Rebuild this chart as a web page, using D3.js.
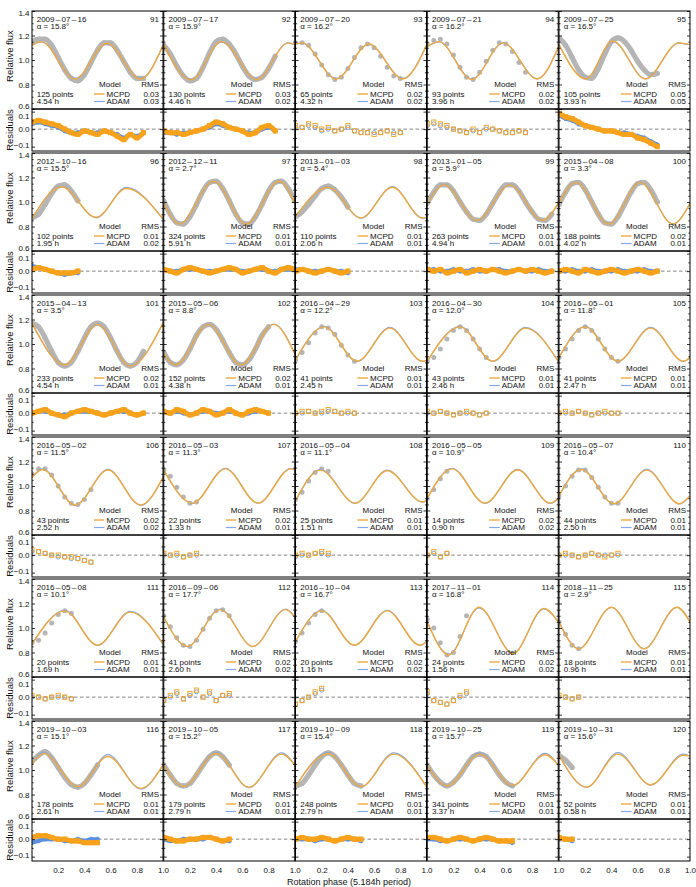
<!DOCTYPE html>
<html><head><meta charset="utf-8">
<script src="https://cdn.jsdelivr.net/npm/d3@7"></script>
<style>body{margin:0;background:#fff}svg{display:block}</style>
</head><body><svg id="c" width="696" height="887"></svg>
<script>
const panelIds = [91,92,93,94,95,96,97,98,99,100,101,102,103,104,105,106,107,108,109,110,111,112,113,114,115,116,117,118,119,120];
const dates = ["2009–07–16","2009–07–17","2009–07–20","2009–07–21","2009–07–25","2012–10–16","2012–12–11","2013–01–03","2013–01–05","2015–04–08","2015–04–13","2015–05–06","2016–04–29","2016–04–30","2016–05–01","2016–05–02","2016–05–03","2016–05–04","2016–05–05","2016–05–07","2016–05–08","2016–09–06","2016–10–04","2017–11–01","2018–11–25","2019–10–03","2019–10–05","2019–10–09","2019–10–25","2019–10–31"];
const alphas = [15.8,15.9,16.2,16.2,16.5,15.5,2.7,5.4,5.9,3.3,3.5,8.8,12.2,12.0,11.8,11.5,11.3,11.1,10.9,10.4,10.1,17.7,16.7,16.8,2.9,15.1,15.2,15.4,15.7,15.6];
const nPoints = [125,130,65,93,105,102,324,110,263,188,233,152,41,43,41,43,22,25,14,44,20,41,20,24,18,178,179,248,341,52];
const hours = [4.54,4.46,4.32,3.96,3.93,1.95,5.91,2.06,4.94,4.02,4.54,4.38,2.45,2.46,2.47,2.52,1.33,1.51,0.90,2.50,1.69,2.60,1.16,1.56,0.96,2.61,2.79,2.79,3.37,0.58];
const rmsMCPD = [0.03,0.03,0.02,0.02,0.05,0.01,0.01,0.01,0.01,0.02,0.02,0.02,0.01,0.01,0.01,0.02,0.02,0.01,0.02,0.01,0.01,0.02,0.02,0.02,0.01,0.01,0.01,0.01,0.01,0.01];
const rmsADAM = [0.03,0.02,0.02,0.02,0.05,0.02,0.01,0.01,0.01,0.01,0.01,0.01,0.01,0.01,0.01,0.02,0.01,0.01,0.02,0.01,0.01,0.02,0.02,0.02,0.01,0.01,0.01,0.01,0.01,0.01];

// model curves: [phase, relative flux] at read-off extrema
const mcpdKeys = [
 [[0,1.12],[0.07,1.15],[0.33,0.845],[0.57,1.135],[0.83,0.845],[1,1.12]],
 [[0,1.125],[0.21,0.838],[0.44,1.15],[0.71,0.84],[0.95,1.14],[1,1.125]],
 [[0,1.13],[0.05,1.14],[0.31,0.845],[0.56,1.13],[0.82,0.845],[1,1.12]],
 [[0,1.11],[0.09,1.15],[0.34,0.84],[0.58,1.14],[0.84,0.845],[1,1.1]],
 [[0,1.125],[0.205,0.845],[0.41,1.155],[0.66,0.845],[0.915,1.14],[1,1.125]],
 [[0,0.865],[0.225,1.125],[0.49,0.875],[0.72,1.11],[1,0.862]],
 [[0,0.995],[0.12,0.82],[0.38,1.17],[0.63,0.82],[0.88,1.17],[1,0.995]],
 [[0,0.88],[0.25,1.12],[0.5,0.87],[0.74,1.12],[0.97,0.87],[1,0.875]],
 [[0,0.99],[0.13,1.14],[0.38,0.85],[0.63,1.14],[0.88,0.85],[1,0.99]],
 [[0,0.99],[0.13,1.16],[0.38,0.82],[0.62,1.16],[0.87,0.82],[1,0.99]],
 [[0,1.17],[0.25,0.83],[0.5,1.16],[0.75,0.82],[1,1.17]],
 [[0,0.92],[0.09,0.83],[0.34,1.16],[0.59,0.83],[0.84,1.16],[1,0.92]],
 [[0,0.87],[0.22,1.14],[0.47,0.86],[0.72,1.13],[0.97,0.86],[1,0.865]],
 [[0,0.86],[0.25,1.14],[0.5,0.86],[0.75,1.13],[1,0.86]],
 [[0,0.89],[0.2,1.14],[0.45,0.86],[0.7,1.13],[0.95,0.86],[1,0.89]],
 [[0,1.07],[0.08,1.135],[0.33,0.845],[0.58,1.13],[0.83,0.845],[1,1.07]],
 [[0,1.13],[0.22,0.86],[0.47,1.14],[0.72,0.86],[0.97,1.14],[1,1.13]],
 [[0,0.88],[0.19,1.13],[0.456,0.86],[0.7,1.125],[0.97,0.87],[1,0.88]],
 [[0,0.9],[0.19,1.14],[0.44,0.86],[0.69,1.13],[0.94,0.86],[1,0.9]],
 [[0,0.92],[0.17,1.135],[0.42,0.855],[0.67,1.13],[0.92,0.855],[1,0.92]],
 [[0,0.87],[0.25,1.14],[0.5,0.86],[0.75,1.13],[1,0.87]],
 [[0,1.09],[0.18,0.85],[0.43,1.15],[0.68,0.85],[0.93,1.15],[1,1.09]],
 [[0,0.89],[0.2,1.14],[0.45,0.86],[0.7,1.14],[0.95,0.86],[1,0.89]],
 [[0,1.05],[0.165,0.78],[0.395,1.17],[0.655,0.79],[0.89,1.16],[1,1.05]],
 [[0,1.05],[0.15,0.83],[0.4,1.17],[0.65,0.83],[0.9,1.17],[1,1.05]],
 [[0,1.05],[0.09,1.136],[0.35,0.864],[0.58,1.11],[0.83,0.85],[1,1.04]],
 [[0,1.04],[0.15,0.865],[0.4,1.135],[0.65,0.86],[0.9,1.13],[1,1.04]],
 [[0,0.865],[0.25,1.135],[0.5,0.865],[0.75,1.13],[1,0.865]],
 [[0,1.04],[0.15,0.87],[0.4,1.13],[0.65,0.875],[0.9,1.125],[1,1.04]],
 [[0,1.12],[0.21,0.86],[0.45,1.13],[0.7,0.88],[0.95,1.12],[1,1.115]]
];
const adamKeys = [
 [[0,1.12],[0.07,1.148],[0.33,0.85],[0.57,1.13],[0.83,0.85],[1,1.12]],
 [[0,1.125],[0.21,0.842],[0.44,1.145],[0.71,0.843],[0.95,1.14],[1,1.125]],
 [[0,1.13],[0.05,1.138],[0.31,0.85],[0.56,1.128],[0.82,0.85],[1,1.12]],
 [[0,1.11],[0.09,1.148],[0.34,0.845],[0.58,1.138],[0.84,0.848],[1,1.1]],
 [[0,1.125],[0.205,0.848],[0.41,1.15],[0.66,0.848],[0.915,1.138],[1,1.125]],
 [[0,0.86],[0.225,1.13],[0.49,0.87],[0.72,1.12],[1,0.858]],
 [[0,0.995],[0.12,0.823],[0.38,1.168],[0.63,0.823],[0.88,1.168],[1,0.995]],
 [[0,0.878],[0.25,1.125],[0.5,0.868],[0.74,1.125],[0.97,0.868],[1,0.873]],
 [[0,0.99],[0.13,1.145],[0.38,0.848],[0.63,1.145],[0.88,0.848],[1,0.99]],
 [[0,0.99],[0.13,1.162],[0.38,0.822],[0.62,1.162],[0.87,0.822],[1,0.99]],
 [[0,1.172],[0.25,0.832],[0.5,1.162],[0.75,0.822],[1,1.172]],
 [[0,0.92],[0.09,0.832],[0.34,1.162],[0.59,0.832],[0.84,1.162],[1,0.92]],
 [[0,0.868],[0.22,1.145],[0.47,0.858],[0.72,1.135],[0.97,0.858],[1,0.863]],
 [[0,0.858],[0.25,1.145],[0.5,0.858],[0.75,1.135],[1,0.858]],
 [[0,0.888],[0.2,1.145],[0.45,0.858],[0.7,1.135],[0.95,0.858],[1,0.888]],
 [[0,1.07],[0.08,1.14],[0.33,0.842],[0.58,1.135],[0.83,0.842],[1,1.07]],
 [[0,1.13],[0.22,0.858],[0.47,1.145],[0.72,0.858],[0.97,1.145],[1,1.13]],
 [[0,0.878],[0.19,1.135],[0.456,0.858],[0.7,1.13],[0.97,0.868],[1,0.878]],
 [[0,0.898],[0.19,1.145],[0.44,0.858],[0.69,1.135],[0.94,0.858],[1,0.898]],
 [[0,0.918],[0.17,1.14],[0.42,0.853],[0.67,1.135],[0.92,0.853],[1,0.918]],
 [[0,0.868],[0.25,1.145],[0.5,0.858],[0.75,1.135],[1,0.868]],
 [[0,1.09],[0.18,0.848],[0.43,1.155],[0.68,0.848],[0.93,1.155],[1,1.09]],
 [[0,0.888],[0.2,1.145],[0.45,0.858],[0.7,1.145],[0.95,0.858],[1,0.888]],
 [[0,1.05],[0.165,0.785],[0.395,1.165],[0.655,0.795],[0.89,1.155],[1,1.05]],
 [[0,1.05],[0.15,0.832],[0.4,1.168],[0.65,0.832],[0.9,1.168],[1,1.05]],
 [[0,1.05],[0.09,1.145],[0.35,0.86],[0.58,1.125],[0.83,0.845],[1,1.04]],
 [[0,1.04],[0.15,0.862],[0.4,1.145],[0.65,0.856],[0.9,1.14],[1,1.04]],
 [[0,0.862],[0.25,1.145],[0.5,0.862],[0.75,1.14],[1,0.862]],
 [[0,1.04],[0.15,0.866],[0.4,1.14],[0.65,0.87],[0.9,1.135],[1,1.04]],
 [[0,1.12],[0.21,0.858],[0.45,1.142],[0.7,0.876],[0.95,1.13],[1,1.115]]
];

// observed relative flux, read at phase steps of 0.05 from phase 0
const obsStep = 0.05;
const obsFlux = [
 [1.15,1.17,1.17,1.12,1.02,0.92,0.85,0.83,0.88,0.98,1.08,1.14,1.14,1.08,0.99,0.90,0.85,0.85],
 [1.12,1.05,0.95,0.87,0.83,0.85,0.94,1.06,1.15,1.17,1.13,1.05,0.95,0.87,0.84,0.86,0.93,1.03],
 [1.14,1.14,1.12,1.05,0.96,0.88,0.84,0.86,0.93,1.02,1.10,1.13,1.10,1.03,0.94,0.87,0.85],
 [1.13,1.16,1.17,1.13,1.04,0.94,0.86,0.84,0.90,0.99,1.08,1.14,1.13,1.07,0.98,0.90],
 [1.18,1.12,1.02,0.92,0.86,0.85,0.93,1.05,1.15,1.18,1.15,1.08,0.99,0.92,0.88,0.89],
 [0.87,0.90,0.98,1.07,1.13,1.14,1.09,1.01],
 [1.01,0.90,0.83,0.82,0.88,0.98,1.09,1.16,1.17,1.11,1.01,0.90,0.83,0.82,0.88,0.98,1.09,1.16,1.17,1.11,1.01],
 [0.88,0.92,0.98,1.05,1.11,1.13,1.10,1.04,0.96],
 [0.99,1.08,1.14,1.14,1.09,1.00,0.92,0.86,0.85,0.90,0.99,1.08,1.14,1.14,1.09,1.00,0.92,0.86,0.85,0.90],
 [0.98,1.08,1.15,1.16,1.10,1.00,0.90,0.83,0.82,0.88,0.98,1.08,1.15,1.16,1.10,1.00],
 [1.17,1.14,1.05,0.94,0.85,0.82,0.85,0.94,1.05,1.14,1.17,1.14,1.05,0.94,0.85,0.82,0.85,0.94],
 [0.93,0.85,0.83,0.87,0.96,1.07,1.14,1.16,1.12,1.03,0.93,0.85,0.83,0.87,0.96,1.07,1.14],
 [0.87,0.93,1.01,1.09,1.14,1.13,1.08,0.99,0.91,0.86],
 [0.86,0.89,0.96,1.04,1.11,1.14,1.11,1.04,0.96,0.89],
 [0.89,0.96,1.04,1.11,1.14,1.11,1.04,0.96,0.89,0.86],
 [1.10,1.14,1.14,1.09,1.00,0.91,0.86,0.85,0.89,0.97],
 [1.13,1.08,0.99,0.91,0.86,0.87],
 [0.89,0.95,1.04,1.11,1.14,1.12],
 [0.90,0.97,1.06,1.12],
 [0.92,1.00,1.08,1.13,1.13,1.07,0.99,0.91,0.86,0.86],
 [0.88,0.90,0.96,1.04,1.11,1.14,1.12],
 [1.10,1.01,0.92,0.86,0.85,0.90,0.99,1.08,1.14,1.15,1.10],
 [0.89,0.96,1.04,1.11,1.14],
 [1.07,1.00,0.88,0.78,0.80,0.93,1.10],
 [1.05,0.95,0.86,0.83],
 [1.07,1.12,1.15,1.10,1.02,0.94,0.88,0.86,0.89,0.96,1.04],
 [1.04,0.96,0.89,0.87,0.89,0.96,1.04,1.11,1.14,1.11,1.04],
 [0.87,0.89,0.96,1.04,1.11,1.14,1.11,1.04,0.96,0.89,0.87],
 [1.04,0.96,0.90,0.87,0.90,0.96,1.04,1.11,1.13,1.11,1.04,0.96,0.90,0.87],
 [1.12,1.08,1.02]
];
const resMCPD = [
 [0.04,0.05,0.04,0.03,0.02,0.00,-0.02,-0.03,-0.01,-0.02,-0.03,-0.01,-0.02,-0.04,-0.06,-0.03,-0.05,-0.02],
 [-0.01,-0.02,-0.02,-0.03,-0.02,-0.01,0.00,0.02,0.04,0.03,0.01,0.00,-0.01,-0.03,-0.02,0.01,0.02,-0.01],
 [0.02,0.01,0.03,0.02,0.00,0.01,-0.01,0.00,0.02,-0.01,-0.02,-0.02,-0.03,-0.02,-0.01,-0.03,-0.02],
 [0.03,0.04,0.03,0.02,0.00,-0.01,-0.02,0.00,-0.02,0.01,0.00,-0.01,-0.02,-0.02,-0.01,-0.02],
 [0.09,0.07,0.06,0.04,0.02,0.01,0.00,-0.01,-0.01,-0.02,-0.03,-0.03,-0.05,-0.06,-0.08,-0.10],
 [0.01,0.02,0.01,0.00,-0.01,-0.01,-0.01,0.00],
 [0.01,0.00,-0.01,0.01,0.02,0.01,0.00,-0.01,0.00,0.01,0.02,0.01,-0.01,0.00,0.01,0.02,0.00,-0.01,0.01,0.02,0.01],
 [0.00,0.01,0.00,-0.01,0.00,0.01,0.00,-0.01,0.00],
 [0.01,0.00,0.01,-0.01,0.00,0.01,-0.01,0.00,0.01,0.00,0.01,0.00,-0.01,0.00,0.01,0.00,0.01,0.00,-0.01,0.00],
 [0.00,0.01,0.00,-0.01,0.01,0.00,-0.01,0.00,0.01,0.00,-0.01,0.00,0.01,0.00,-0.01,0.00],
 [0.00,0.01,0.02,0.00,-0.01,-0.02,0.00,0.01,0.02,0.01,0.00,-0.01,0.00,0.01,0.02,0.00,-0.01,0.00],
 [0.01,0.00,0.02,0.01,-0.01,0.00,0.02,0.01,-0.01,0.00,0.02,0.00,-0.01,0.01,0.02,0.01,0.00],
 [0.00,0.01,0.01,0.00,0.01,0.02,0.01,0.00,0.01,0.00],
 [0.01,0.00,0.01,0.00,-0.01,0.00,0.01,0.00,-0.01,0.00],
 [0.00,0.01,0.00,0.01,0.00,-0.01,0.00,0.01,0.00,0.00],
 [0.03,0.02,0.01,0.00,0.00,-0.01,-0.01,-0.02,-0.03,-0.04],
 [0.01,0.00,0.01,-0.01,0.00,0.01],
 [0.00,0.01,0.00,0.01,0.02,0.01],
 [0.00,0.02,-0.01,0.01],
 [0.00,0.01,0.00,-0.01,0.00,0.01,0.00,-0.01,0.00,0.01],
 [0.01,0.00,-0.01,0.00,0.01,0.00,-0.01],
 [-0.02,0.01,0.03,-0.01,0.02,0.04,0.00,0.03,-0.02,0.01,0.02],
 [-0.04,-0.02,0.00,0.03,0.05],
 [0.03,-0.02,-0.03,-0.04,-0.02,0.01,0.03],
 [0.01,0.00,-0.01,0.00],
 [0.01,0.02,0.02,0.01,0.00,0.00,-0.01,-0.01,-0.02,-0.02,-0.02],
 [0.01,0.00,-0.01,-0.01,0.00,0.00,0.01,0.01,0.00,-0.01,0.00],
 [0.00,0.01,0.00,0.00,0.01,0.00,-0.01,0.00,0.01,0.00,0.00],
 [0.01,0.01,0.00,-0.01,0.00,0.01,0.00,-0.01,0.00,0.01,0.00,-0.01,-0.01,-0.01],
 [0.01,0.00,0.00]
];
const resADAM = [
 [0.03,0.04,0.03,0.02,0.01,-0.01,-0.02,-0.02,-0.01,-0.02,-0.02,-0.01,-0.02,-0.03,-0.05,-0.03,-0.04,-0.02],
 [-0.02,-0.02,-0.03,-0.02,-0.02,-0.01,0.00,0.01,0.03,0.02,0.01,0.00,-0.01,-0.02,-0.02,0.00,0.01,-0.01],
 [0.01,0.01,0.02,0.01,-0.01,0.00,-0.01,0.00,0.01,-0.01,-0.02,-0.02,-0.02,-0.02,-0.01,-0.02,-0.02],
 [0.02,0.03,0.02,0.01,0.00,-0.01,-0.02,-0.01,-0.02,0.00,0.00,-0.01,-0.02,-0.02,-0.01,-0.02],
 [0.08,0.06,0.05,0.03,0.02,0.01,0.00,-0.01,-0.01,-0.02,-0.02,-0.03,-0.04,-0.05,-0.07,-0.09],
 [0.03,0.02,0.01,0.00,-0.01,-0.02,-0.01,-0.01],
 [0.01,0.00,0.00,0.01,0.01,0.01,0.00,0.00,0.00,0.01,0.01,0.01,0.00,0.00,0.01,0.01,0.00,0.00,0.01,0.01,0.01],
 [0.01,0.01,0.00,0.00,0.00,0.01,0.00,0.00,-0.01],
 [0.01,0.01,0.00,0.00,0.01,0.00,0.00,0.01,0.00,0.00,0.01,0.01,0.00,0.00,0.01,0.00,0.00,0.01,0.00,0.00],
 [0.00,0.00,0.01,0.00,0.00,0.01,0.00,0.00,0.00,0.01,0.00,0.00,0.00,0.01,0.00,0.00],
 [0.00,0.01,0.01,0.00,-0.01,-0.01,0.00,0.01,0.01,0.01,0.00,-0.01,0.00,0.01,0.01,0.00,-0.01,0.00],
 [0.01,0.00,0.01,0.00,-0.01,0.00,0.01,0.01,0.00,0.00,0.01,0.00,-0.01,0.00,0.01,0.01,0.00],
 [0.00,0.00,0.01,0.00,0.00,0.01,0.01,0.00,0.00,0.00],
 [0.00,0.00,0.01,0.00,-0.01,0.00,0.00,0.00,-0.01,0.00],
 [0.00,0.00,0.00,0.01,0.00,-0.01,0.00,0.00,0.00,0.00],
 [0.02,0.02,0.01,0.00,-0.01,-0.01,-0.02,-0.02,-0.03,-0.04],
 [0.00,0.00,0.00,-0.01,0.00,0.00],
 [-0.01,0.00,0.00,0.01,0.01,0.00],
 [0.00,0.01,-0.01,0.01],
 [0.00,0.00,0.00,-0.01,0.00,0.01,0.00,0.00,0.00,0.00],
 [0.00,0.00,-0.01,0.00,0.00,0.00,-0.01],
 [-0.02,0.00,0.02,-0.01,0.01,0.03,0.00,0.02,-0.02,0.01,0.01],
 [-0.04,-0.02,0.00,0.02,0.04],
 [0.02,-0.02,-0.03,-0.04,-0.02,0.00,0.02],
 [0.00,0.00,-0.01,0.00],
 [-0.02,-0.01,0.00,0.00,0.00,-0.01,-0.01,0.00,-0.01,0.00,0.00],
 [0.00,-0.01,-0.01,0.00,0.00,0.00,0.00,0.01,0.00,-0.01,-0.01],
 [0.00,0.00,0.00,-0.01,0.00,0.00,-0.01,0.00,0.00,0.00,-0.01],
 [0.00,0.00,-0.01,-0.01,0.00,0.00,0.00,-0.01,0.00,0.00,0.00,-0.01,-0.01,-0.02],
 [0.00,0.00,-0.01]
];

const fluxTicks = [0.6,0.8,1.0,1.2,1.4];
const fluxMinorTicks = [0.65,0.7,0.75,0.85,0.9,0.95,1.05,1.1,1.15,1.25,1.3,1.35];
const resTicks = [-0.1,0.0,0.1];
const resMinorTicks = [-0.05,0.05];
const phaseTicks = [0.2,0.4,0.6,0.8,1.0];

// ---- layout & style ----
const L=32, PX=131.75, W=131, T=11, PY=142, HL=98, HR=42;
const FONT="'Liberation Sans', Arial, Helvetica, sans-serif";
const FS=8;
const cM="#eea93f", cA="#86a9e6", cG="#b5b5b5", cMR="#f7a21b", cAR="#5b8fe0";

const svg=d3.select("#c");
const defs=svg.append("defs");
const fmt1=d3.format(".1f");

function panelTicks(g, y, x0, x1, majors, minors){
  const a=g.append("g").attr("transform",`translate(${x0},0)`).call(d3.axisRight(y).tickValues(majors).tickSize(3).tickFormat(""));
  const b=g.append("g").attr("transform",`translate(${x0},0)`).call(d3.axisRight(y).tickValues(minors).tickSize(1.6).tickFormat(""));
  const c=g.append("g").attr("transform",`translate(${x1},0)`).call(d3.axisLeft(y).tickValues(majors).tickSize(3).tickFormat(""));
  const d=g.append("g").attr("transform",`translate(${x1},0)`).call(d3.axisLeft(y).tickValues(minors).tickSize(1.6).tickFormat(""));
  [a,b,c,d].forEach(s=>{s.select(".domain").remove(); s.selectAll("line").attr("stroke","#000").attr("stroke-width",0.8);});
}
function txt(g,x,y,s,anchor){
  return g.append("text").attr("x",x).attr("y",y).attr("font-family",FONT).attr("font-size",FS)
    .attr("text-anchor",anchor||"start").attr("fill","#111").text(s);
}

panelIds.forEach((id,i)=>{
  const r=Math.floor(i/5), c=i%5;
  const x0=L+c*PX, y0=T+r*PY;
  const x=d3.scaleLinear().domain([0,1]).range([x0,x0+W]);
  const yF=d3.scaleLinear().domain([0.6,1.4]).range([y0+HL,y0]);
  const yR=d3.scaleLinear().domain([-0.125,0.115]).range([y0+HL+HR,y0+HL]);
  const g=svg.append("g");
  defs.append("clipPath").attr("id","cf"+i).append("rect").attr("x",x0).attr("y",y0).attr("width",W).attr("height",HL);
  defs.append("clipPath").attr("id","cr"+i).append("rect").attr("x",x0).attr("y",y0+HL).attr("width",W).attr("height",HR);

  const obs=obsFlux[i].map((v,k)=>[k*obsStep,v]);
  const rM=resMCPD[i].map((v,k)=>[k*obsStep,v]);
  const rA=resADAM[i].map((v,k)=>[k*obsStep,v]);
  const dense = nPoints[i]/obsFlux[i].length > 6;

  // light curve panel
  const gf=g.append("g").attr("clip-path",`url(#cf${i})`);
  const lf=d3.line().x(d=>x(d[0])).y(d=>yF(d[1])).curve(d3.curveMonotoneX);
  if(dense) gf.append("path").attr("d",lf(obs)).attr("fill","none").attr("stroke",cG).attr("stroke-width",5.2).attr("stroke-linecap","round");
  gf.selectAll("circle.o").data(obs).join("circle").attr("cx",d=>x(d[0])).attr("cy",d=>yF(d[1])).attr("r",2.5).attr("fill",cG);
  gf.append("path").attr("d",lf(adamKeys[i])).attr("fill","none").attr("stroke",cA).attr("stroke-width",1.2);
  gf.append("path").attr("d",lf(mcpdKeys[i])).attr("fill","none").attr("stroke",cM).attr("stroke-width",1.4);

  // residual panel
  const gr=g.append("g").attr("clip-path",`url(#cr${i})`);
  gr.append("line").attr("x1",x0).attr("x2",x0+W).attr("y1",yR(0)).attr("y2",yR(0))
    .attr("stroke","#666").attr("stroke-width",0.8).attr("stroke-dasharray","3.5,2.5");
  const lr=d3.line().x(d=>x(d[0])).y(d=>yR(d[1])).curve(d3.curveMonotoneX);
  if(dense) gr.append("path").attr("d",lr(rA)).attr("fill","none").attr("stroke",cAR).attr("stroke-width",4).attr("stroke-linecap","round");
  gr.selectAll("circle.a").data(rA).join("circle").attr("cx",d=>x(d[0])).attr("cy",d=>yR(d[1])).attr("r",2.1)
    .attr("fill","none").attr("stroke",cAR).attr("stroke-width",0.8);
  if(dense) gr.append("path").attr("d",lr(rM)).attr("fill","none").attr("stroke",cMR).attr("stroke-width",5).attr("stroke-linecap","round");
  gr.selectAll("rect.m").data(rM).join("rect").attr("x",d=>x(d[0])-2.1).attr("y",d=>yR(d[1])-2.1).attr("width",4.2).attr("height",4.2)
    .attr("fill","none").attr("stroke",cMR).attr("stroke-width",0.9);

  // frames & ticks
  g.append("rect").attr("x",x0).attr("y",y0).attr("width",W).attr("height",HL).attr("fill","none").attr("stroke","#000").attr("stroke-width",1);
  g.append("rect").attr("x",x0).attr("y",y0+HL).attr("width",W).attr("height",HR).attr("fill","none").attr("stroke","#000").attr("stroke-width",1);
  panelTicks(g,yF,x0,x0+W,fluxTicks,fluxMinorTicks);
  panelTicks(g,yR,x0,x0+W,resTicks,resMinorTicks);

  // annotations
  const dt=txt(g,x0+4.7,y0+10.7,"");
  dates[i].split("–").forEach((part,k)=>{
    if(k>0) dt.append("tspan").attr("dx",1.3).text("–");
    dt.append("tspan").attr("dx",k>0?1.3:0).text(part);
  });
  txt(g,x0+4.7,y0+18.2,"α = "+alphas[i].toFixed(1)+"°");
  txt(g,x0+W-4,y0+10.7,String(id),"end");
  txt(g,x0+4.7,y0+85.7,nPoints[i]+" points");
  txt(g,x0+4.7,y0+93.2,hours[i].toFixed(2)+" h");
  txt(g,x0+78,y0+75.9,"Model","middle");
  txt(g,x0+W-4,y0+75.9,"RMS","end");
  g.append("line").attr("x1",x0+62).attr("x2",x0+72.5).attr("y1",y0+83).attr("y2",y0+83).attr("stroke",cM).attr("stroke-width",1.4);
  g.append("line").attr("x1",x0+62).attr("x2",x0+72.5).attr("y1",y0+90.5).attr("y2",y0+90.5).attr("stroke",cA).attr("stroke-width",1.2);
  txt(g,x0+74.5,y0+85.7,"MCPD");
  txt(g,x0+74.5,y0+93.2,"ADAM");
  txt(g,x0+W-4,y0+85.7,rmsMCPD[i].toFixed(2),"end");
  txt(g,x0+W-4,y0+93.2,rmsADAM[i].toFixed(2),"end");

  // tick labels on outer panels
  if(c===0){
    const a1=g.append("g").attr("transform",`translate(${x0},0)`).call(d3.axisLeft(yF).tickValues(fluxTicks).tickSize(0).tickPadding(2.5).tickFormat(fmt1));
    const a2=g.append("g").attr("transform",`translate(${x0},0)`).call(d3.axisLeft(yR).tickValues(resTicks).tickSize(0).tickPadding(2.5).tickFormat(fmt1));
    [a1,a2].forEach(s=>{s.select(".domain").remove(); s.selectAll("text").attr("font-family",FONT).attr("font-size",FS).attr("fill","#111");});
    a1.selectAll(".tick text").filter(d=>d===0.6).attr("dy","-0.12em");
    a1.selectAll(".tick text").filter(d=>d===1.4).attr("dy","0.55em");
    a2.selectAll(".tick text").filter(d=>d===0.1).attr("dy","0.8em");
    a2.selectAll(".tick text").filter(d=>d===-0.1).attr("dy","0.1em");
    g.append("text").attr("transform",`translate(9,${y0+45}) rotate(-90)`).attr("text-anchor","middle").attr("dominant-baseline","central")
      .attr("font-family",FONT).attr("font-size",9.5).attr("fill","#111").text("Relative flux");
    g.append("text").attr("transform",`translate(9,${y0+HL+21}) rotate(-90)`).attr("text-anchor","middle").attr("dominant-baseline","central")
      .attr("font-family",FONT).attr("font-size",9.5).attr("fill","#111").text("Residuals");
  }
  if(r===5){
    const a3=g.append("g").attr("transform",`translate(0,${y0+HL+HR})`).call(d3.axisBottom(x).tickValues(phaseTicks).tickSize(0).tickPadding(6).tickFormat(fmt1));
    a3.select(".domain").remove(); a3.selectAll("text").attr("font-family",FONT).attr("font-size",FS).attr("fill","#111");
  }
});
svg.append("text").attr("x",349).attr("y",884.5).attr("text-anchor","middle").attr("font-family",FONT).attr("font-size",9).attr("fill","#111")
  .text("Rotation phase (5.184h period)");
</script></body></html>
